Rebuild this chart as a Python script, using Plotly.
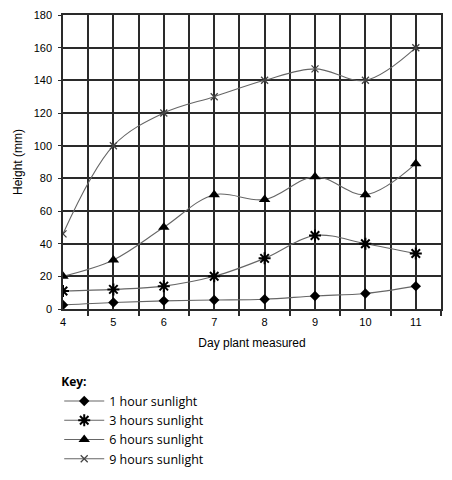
import plotly.graph_objects as go

# plant heights (mm) by day measured
days = [4, 5, 6, 7, 8, 9, 10, 11]
sun_1h = [2.5, 4, 5, 5.5, 6, 8, 9.5, 14]
sun_3h = [11, 12, 14, 20, 31, 45, 40, 34]
sun_6h = [20, 30, 50, 70, 67, 81, 70, 89]
sun_9h = [46, 100, 120, 130, 140, 147, 140, 160]

names = ["1 hour sunlight", "3 hours sunlight", "6 hours sunlight", "9 hours sunlight"]
series = [sun_1h, sun_3h, sun_6h, sun_9h]
symbols = ["diamond", "asterisk-open", "triangle-up", "x-thin-open"]
sizes = [8, 10, 10, 7]
mcolors = ["black", "black", "black", "#444444"]

fig = go.Figure()
for name, vals, sym, sz, mc in zip(names, series, symbols, sizes, mcolors):
    fig.add_trace(go.Scatter(
        x=days, y=vals, name=name, mode="lines+markers",
        line=dict(color="#666666", width=1.1, shape="spline", smoothing=1.0),
        marker=dict(symbol=sym, size=sz, color=mc,
                    line=dict(color=mc, width=(1.3 if sym == "x-thin-open" else 2) if "open" in sym else 0)),
    ))

# page body adds 8px, so the figure is a bit smaller than the window
grid = "#2a2a2a"
fig.update_layout(
    width=444, height=472,
    margin=dict(l=55, r=11, t=7, b=171, autoexpand=False),
    paper_bgcolor="white", plot_bgcolor="white",
    font=dict(family="Liberation Sans", size=11, color="black"),
    showlegend=True,
    legend=dict(
        x=-0.01, y=-0.21, xanchor="left", yanchor="top",
        title=dict(text="<b>Key:</b>", side="top",
                   font=dict(family="Open Sans", size=12)),
        font=dict(family="Open Sans", size=12.5),
        tracegroupgap=0, itemwidth=40,
    ),
)
fig.update_xaxes(
    range=[4, 11.5], dtick=1, tick0=4, automargin=False,
    showgrid=True, gridcolor=grid, gridwidth=1.5,
    showline=True, linecolor=grid, linewidth=1.5, mirror=True,
    zeroline=False, ticks="", ticklabelstandoff=2,
    minor=dict(dtick=0.5, showgrid=True, gridcolor=grid, gridwidth=1.5,
               ticks="outside", ticklen=5, tickcolor=grid, tickwidth=1.5),
    title=dict(text="Day plant measured", standoff=12, font=dict(size=12)),
)
fig.update_yaxes(
    range=[0, 180], dtick=20, automargin=False,
    showgrid=True, gridcolor=grid, gridwidth=1.5,
    showline=True, linecolor=grid, linewidth=1.5, mirror=True,
    zeroline=False, ticks="outside", ticklen=3, tickcolor=grid,
    ticklabelstandoff=4,
    title=dict(text="Height (mm)", standoff=8, font=dict(size=12)),
)

fig.write_html("out.html")
